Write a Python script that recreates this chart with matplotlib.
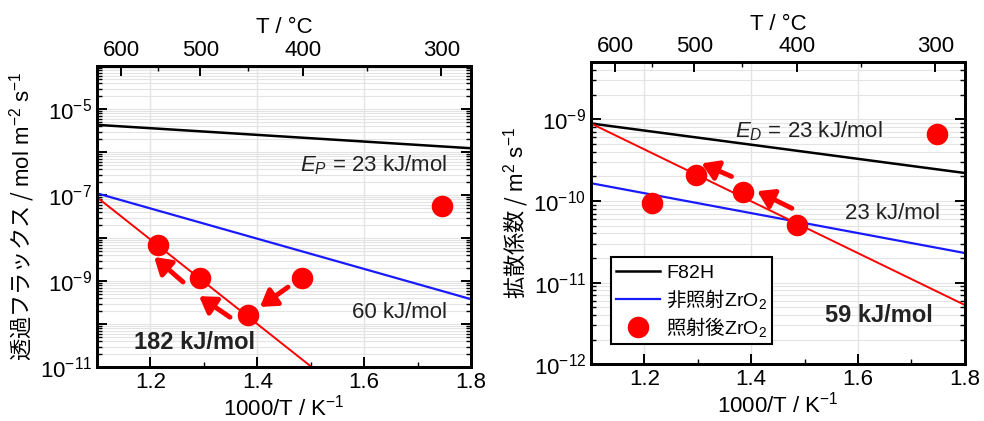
import matplotlib
matplotlib.use("Agg")
import matplotlib.pyplot as plt
from matplotlib.font_manager import FontProperties
from matplotlib.ticker import FixedLocator, FuncFormatter, LogLocator, NullFormatter
import numpy as np

plt.rcParams['font.family'] = ['Liberation Sans', 'Noto Sans CJK JP', 'DejaVu Sans']
# mathtext: \mathsf parts in an Arial-like font
plt.rcParams['mathtext.fontset'] = 'custom'
plt.rcParams['mathtext.rm'] = 'Liberation Sans'
plt.rcParams['mathtext.sf'] = 'Liberation Sans'
plt.rcParams['mathtext.it'] = 'Liberation Sans:italic'
plt.rcParams['mathtext.bf'] = 'Liberation Sans:bold'
plt.rcParams['font.size'] = 16
JP = 'Noto Sans CJK JP'

# ---- data ----
x_line = [1.1, 1.8]

# 透過フラックス (left)
flux_f82h = [4.3e-6, 1.23e-6]
flux_zro2 = [1.1e-7, 3.8e-10]
flux_fit_x = [1.1, 1.502]
flux_fit = [8.9e-8, 1.0e-11]
flux_irr_x = [1.215, 1.293, 1.383, 1.484, 1.746]
flux_irr = [6.9e-9, 1.2e-9, 1.6e-10, 1.2e-9, 5.5e-8]

# 拡散係数 (right)
diff_f82h = [8.9e-10, 2.2e-10]
diff_zro2 = [1.65e-10, 2.3e-11]
diff_fit = [8.9e-10, 5.3e-12]
diff_irr_x = [1.215, 1.296, 1.384, 1.485, 1.747]
diff_irr = [9.5e-11, 2.1e-10, 1.3e-10, 5.1e-11, 6.7e-10]

temp_ticks = [600, 500, 400, 300]
temp_minor = [550, 450, 350]

RED = '#ff0000'
BLUE = '#1a1aff'
TXT = '#222222'
GRID = '#e4e4e4'


def c2x(t):
    return 1000.0 / (np.asarray(t, dtype=float) + 273.15)


def setup(ax, ylim, labeled):
    ax.set_yscale('log')
    ax.set_xlim(1.1, 1.8)
    ax.set_ylim(*ylim)
    ax.set_xticks([1.2, 1.4, 1.6, 1.8])
    ax.xaxis.set_minor_locator(FixedLocator(np.arange(1.1, 1.81, 0.1)))
    lo, hi = int(np.floor(np.log10(ylim[0]))), int(np.ceil(np.log10(ylim[1])))
    decs = [10.0 ** k for k in range(lo, hi + 1)]
    ax.yaxis.set_major_locator(FixedLocator(decs))
    ax.yaxis.set_minor_locator(LogLocator(base=10, subs=np.arange(2, 10), numticks=50))
    ax.yaxis.set_minor_formatter(NullFormatter())

    def fmt(v, pos):
        k = int(round(np.log10(v)))
        if k in labeled:
            return r'$\mathsf{10^{%d}}$' % k
        return ''
    ax.yaxis.set_major_formatter(FuncFormatter(fmt))
    ax.tick_params(which='major', direction='in', length=7, width=1.4, right=True)
    ax.tick_params(which='minor', direction='in', length=3.5, width=1.0, right=True)
    ax.tick_params(axis='x', which='both', top=False)
    ax.grid(True, axis='y', which='both', color=GRID, lw=0.8)
    for xv in [1.2, 1.4, 1.6]:
        ax.axvline(xv, color=GRID, lw=1.0, zorder=0)
    ax.set_axisbelow(True)
    for s in ax.spines.values():
        s.set_linewidth(2.0)
    ax.set_xlabel(r'1000/T / K$\mathsf{^{-1}}$', labelpad=1)

    # top axis in °C
    top = ax.twiny()
    top.set_xlim(ax.get_xlim())
    top.set_xticks(c2x(temp_ticks))
    top.set_xticklabels([str(t) for t in temp_ticks])
    top.xaxis.set_minor_locator(FixedLocator(c2x(temp_minor)))
    top.tick_params(which='major', direction='in', length=7, width=1.4)
    top.tick_params(which='minor', direction='in', length=3.5, width=1.0)
    for s in top.spines.values():
        s.set_linewidth(2.0)
    top.set_xlabel('T / °C', labelpad=5)
    return top


def arrow(ax, tail, head):
    ax.annotate('', xy=head, xytext=tail,
                arrowprops=dict(arrowstyle='-|>,head_length=0.6,head_width=0.38',
                                lw=3.5, color=RED, shrinkA=0, shrinkB=0),
                zorder=5)


fig = plt.figure(figsize=(9.84, 4.21), dpi=100)

# ---------------- left ----------------
ax1 = fig.add_axes([0.0986, 0.128, 0.380, 0.715])
ax1.plot(x_line, flux_f82h, color='black', lw=1.8)
ax1.plot(x_line, flux_zro2, color=BLUE, lw=1.6)
ax1.plot(flux_fit_x, flux_fit, color=RED, lw=1.4)
ax1.plot(flux_irr_x, flux_irr, 'o', color=RED, ms=14.5, zorder=6)
setup(ax1, (1e-11, 1e-4), [-11, -9, -7, -5])
arrow(ax1, (1.4575, 10 ** -9.14), (1.405, 10 ** -9.60))
arrow(ax1, (1.349, 10 ** -9.84), (1.291, 10 ** -9.35))
arrow(ax1, (1.261, 10 ** -9.02), (1.207, 10 ** -8.44))
ax1.text(1.48, 10 ** -6.30, r'$E_P$ = 23 kJ/mol', color=TXT, va='center', ha='left')
ax1.text(1.577, 10 ** -9.74, '60 kJ/mol', color=TXT, va='center', ha='left')
ax1.text(1.169, 10 ** -10.42, '182 kJ/mol', color=TXT, va='center', ha='left',
         fontweight='bold', fontsize=17)
ax1.set_ylabel(r'透過フラックス / $\mathsf{mol\ m^{-2}\ s^{-1}}$', family=JP, labelpad=2)

# ---------------- right ----------------
ax2 = fig.add_axes([0.6006, 0.135, 0.380, 0.717])
ax2.plot(x_line, diff_f82h, color='black', lw=1.8, label=r'$\mathsf{F82H}$')
ax2.plot(x_line, diff_zro2, color=BLUE, lw=1.6, label=r'非照射$\mathsf{ZrO_2}$')
ax2.plot(x_line, diff_fit, color=RED, lw=1.4)
ax2.plot(diff_irr_x, diff_irr, 'o', color=RED, ms=14.5, zorder=6,
         label=r'照射後$\mathsf{ZrO_2}$')
setup(ax2, (1e-12, 5e-9), [-12, -11, -10, -9])
arrow(ax2, (1.363, 10 ** -9.70), (1.307, 10 ** -9.54))
arrow(ax2, (1.476, 10 ** -10.09), (1.411, 10 ** -9.88))
ax2.text(1.370, 10 ** -9.15, r'$E_D$ = 23 kJ/mol', color=TXT, va='center', ha='left')
ax2.text(1.575, 10 ** -10.15, '23 kJ/mol', color=TXT, va='center', ha='left')
ax2.text(1.538, 10 ** -11.40, '59 kJ/mol', color=TXT, va='center', ha='left',
         fontweight='bold', fontsize=17)
ax2.set_ylabel(r'拡散係数 / $\mathsf{m^2\ s^{-1}}$', family=JP, labelpad=2)
leg = ax2.legend(loc='upper left', bbox_to_anchor=(0.053, 0.354),
                 prop=FontProperties(family=JP, size=14),
                 fancybox=False, framealpha=1, edgecolor='black',
                 handlelength=2.3, handletextpad=0.3, borderpad=0.25,
                 labelspacing=0.2, borderaxespad=0)
leg.get_frame().set_linewidth(1.5)
leg.set_zorder(10)

fig.savefig('out.png', dpi=100)
